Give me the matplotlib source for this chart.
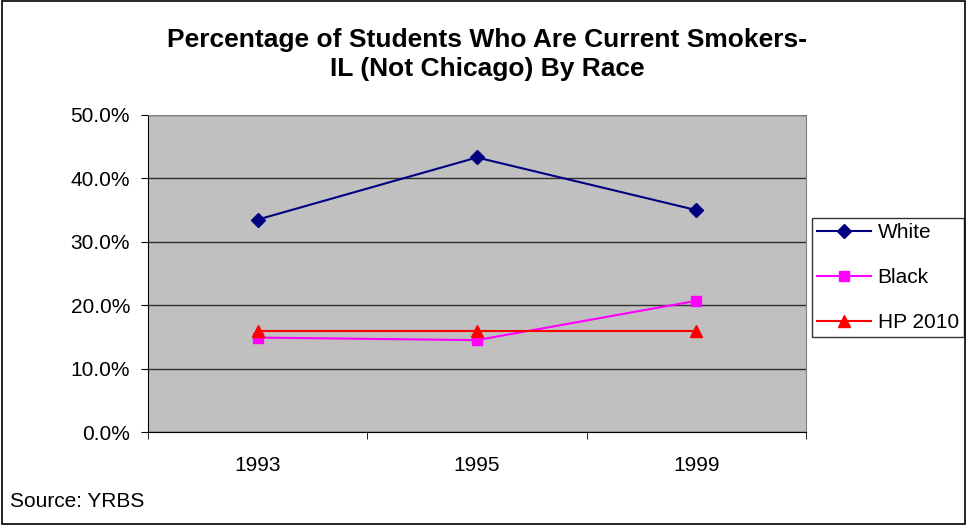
import matplotlib.pyplot as plt
from matplotlib.patches import Rectangle
from matplotlib.ticker import FuncFormatter, FixedLocator

plt.rcParams['font.family'] = ['Liberation Sans', 'DejaVu Sans']

# Data
years = ['1993', '1995', '1999']
white = [33.5, 43.3, 35.0]
black = [14.9, 14.5, 20.7]
hp2010 = [16.0, 16.0, 16.0]

fig = plt.figure(figsize=(9.67, 5.25), dpi=100)
ax = fig.add_axes([0.153, 0.177, 0.6805, 0.604])
ax.set_facecolor('#C0C0C0')

x = range(len(years))
ax.plot(x, white, color='#000080', marker='D', markersize=7, lw=1.5, label='White')
ax.plot(x, black, color='#FF00FF', marker='s', markersize=7, lw=1.5, label='Black')
ax.plot(x, hp2010, color='#FF0000', marker='^', markersize=8, lw=1.5, label='HP 2010')

ax.set_xlim(-0.5, 2.5)
ax.set_ylim(0, 50)
ax.set_yticks([0, 10, 20, 30, 40, 50])
ax.yaxis.set_major_formatter(FuncFormatter(lambda v, p: f'{v:.1f}%'))
ax.grid(axis='y', color='#303030', lw=1)
ax.set_axisbelow(True)

# category labels centred, tick marks between categories
ax.set_xticks(list(x))
ax.set_xticklabels(years)
ax.tick_params(axis='x', which='major', length=0, pad=17)
ax.xaxis.set_minor_locator(FixedLocator([-0.5, 0.5, 1.5, 2.5]))
ax.tick_params(axis='x', which='minor', length=5, direction='out')
ax.tick_params(axis='y', length=5, direction='out', pad=8)
ax.tick_params(labelsize=15)

for s in ['top', 'right']:
    ax.spines[s].set_color('#808080')
for s in ['left', 'bottom']:
    ax.spines[s].set_color('black')

fig.text(0.504, 0.896, 'Percentage of Students Who Are Current Smokers-\nIL (Not Chicago) By Race',
         ha='center', va='center', fontsize=19, fontweight='bold', linespacing=1.3)

leg = ax.legend(loc='upper left', bbox_to_anchor=(0.8397, 0.585), bbox_transform=fig.transFigure,
                fontsize=15, frameon=True, fancybox=False, edgecolor='black', borderaxespad=0,
                handlelength=2.6, labelspacing=1.25, borderpad=0.25, handletextpad=0.3)
leg.get_frame().set_linewidth(1)

fig.text(0.01, 0.044, 'Source: YRBS', fontsize=15, ha='left', va='center')

fig.patches.append(Rectangle((0.002, 0.002), 0.996, 0.996, transform=fig.transFigure,
                             fill=False, edgecolor='black', lw=1.2))

fig.savefig('out.png', dpi=100)
